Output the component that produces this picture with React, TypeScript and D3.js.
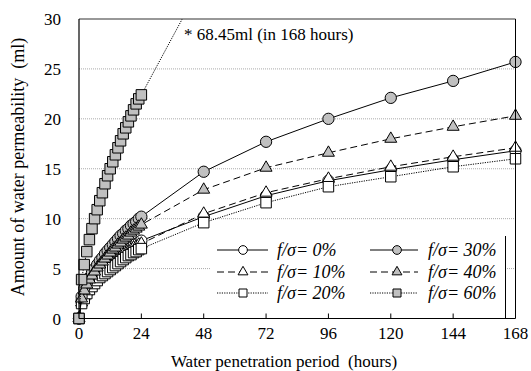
import React, { useEffect, useRef } from "react";
import * as d3 from "d3";

const hoursEarly = d3.range(0, 25);
const hoursLate = [48, 72, 96, 120, 144, 168];

const s0Early = [0, 1.7, 2.3, 2.8, 3.2, 3.6, 3.9, 4.2, 4.5, 4.8, 5.0, 5.3, 5.5, 5.7, 5.9, 6.1, 6.4, 6.6, 6.8, 6.9, 7.1, 7.3, 7.5, 7.6, 7.8];
const s0Late = [10.2, 12.3, 13.8, 14.9, 15.9, 16.8];
const s10Early = [0, 1.6, 2.2, 2.7, 3.1, 3.5, 3.8, 4.1, 4.4, 4.6, 4.9, 5.1, 5.3, 5.5, 5.8, 6.0, 6.2, 6.4, 6.5, 6.7, 6.9, 7.1, 7.2, 7.4, 7.5];
const s10Late = [10.5, 12.6, 14.0, 15.2, 16.2, 17.1];
const s20Early = [0, 1.5, 2.0, 2.5, 2.9, 3.2, 3.5, 3.8, 4.1, 4.3, 4.5, 4.7, 4.9, 5.1, 5.3, 5.5, 5.7, 5.9, 6.1, 6.3, 6.4, 6.6, 6.7, 6.9, 7.0];
const s20Late = [9.6, 11.6, 13.2, 14.2, 15.2, 16.0];
const s30Early = [0, 2.2, 3.0, 3.6, 4.1, 4.6, 5.0, 5.4, 5.8, 6.1, 6.5, 6.8, 7.1, 7.4, 7.7, 8.0, 8.3, 8.5, 8.8, 9.0, 9.3, 9.5, 9.7, 10.0, 10.2];
const s30Late = [14.7, 17.7, 20.0, 22.1, 23.8, 25.7];
const s40Early = [0, 2.0, 2.8, 3.4, 3.9, 4.3, 4.7, 5.1, 5.4, 5.7, 6.0, 6.3, 6.6, 6.9, 7.1, 7.4, 7.6, 7.9, 8.1, 8.3, 8.6, 8.8, 9.0, 9.2, 9.4];
const s40Late = [12.9, 15.1, 16.6, 18.0, 19.2, 20.3];
const s60Early = [0, 3.9, 5.4, 6.7, 7.9, 9.0, 10.0, 10.9, 11.8, 12.6, 13.5, 14.3, 15.0, 15.7, 16.4, 17.1, 17.8, 18.5, 19.1, 19.7, 20.3, 20.9, 21.5, 22.0, 22.4];
const s60Late = [34.0, 43.0, 50.0, 57.0, 63.0, 68.45];

const seriesLabels = ["f/σ= 0%", "f/σ= 10%", "f/σ= 20%", "f/σ= 30%", "f/σ= 40%", "f/σ= 60%"];
const xTicks = [0, 24, 48, 72, 96, 120, 144, 168];
const yTicks = [0, 5, 10, 15, 20, 25, 30];
const annotation = "* 68.45ml (in 168 hours)";

type Series = { label: string; values: number[]; dash: string; marker: string; fill: string };

const series: Series[] = [
  { label: seriesLabels[0], values: [...s0Early, ...s0Late], dash: "none", marker: "circle", fill: "#fff" },
  { label: seriesLabels[1], values: [...s10Early, ...s10Late], dash: "7,4", marker: "triangle", fill: "#fff" },
  { label: seriesLabels[2], values: [...s20Early, ...s20Late], dash: "1.2,1.2", marker: "square", fill: "#fff" },
  { label: seriesLabels[3], values: [...s30Early, ...s30Late], dash: "none", marker: "circle", fill: "#c0c0c0" },
  { label: seriesLabels[4], values: [...s40Early, ...s40Late], dash: "7,4", marker: "triangle", fill: "#c0c0c0" },
  { label: seriesLabels[5], values: [...s60Early, ...s60Late], dash: "1.2,1.2", marker: "square", fill: "#c0c0c0" },
];
const hours = [...hoursEarly, ...hoursLate];

export default function App() {
  const ref = useRef<SVGSVGElement>(null);
  useEffect(() => {
    document.body.style.margin = "0";
    const svg = d3.select(ref.current);
    svg.selectAll("*").remove();
    const W = 531, H = 371;
    const L = 79, R = 515.5, T = 19, B = 318.5;
    const x = d3.scaleLinear().domain([0, 168]).range([L, R]);
    const y = d3.scaleLinear().domain([0, 30]).range([B, T]);
    const font = '"Liberation Serif", "Times New Roman", Times, "DejaVu Serif", serif';

    svg.append("rect").attr("width", W).attr("height", H).attr("fill", "#fff");
    svg.append("defs").append("clipPath").attr("id", "plotclip")
      .append("rect").attr("x", L).attr("y", T).attr("width", R - L).attr("height", B - T);

    svg.append("g").selectAll("line").data(yTicks.filter(v => v > 0 && v < 30)).join("line")
      .attr("x1", L).attr("x2", R).attr("y1", d => y(d)).attr("y2", d => y(d))
      .attr("stroke", "#aaa").attr("stroke-width", 1).attr("stroke-dasharray", "1,1");

    const symbolFor = (m: string) => {
      if (m === "circle") return d3.symbol().type(d3.symbolCircle).size(100)();
      if (m === "triangle") return d3.symbol().type(d3.symbolTriangle).size(62)();
      return d3.symbol().type(d3.symbolSquare).size(110)();
    };

    const line = d3.line<[number, number]>().x(d => x(d[0])).y(d => y(d[1]));
    const drawMarker = (g: any, m: string, fill: string, cx: number, cy: number) => {
      g.append("path").attr("d", symbolFor(m)).attr("transform", `translate(${cx},${cy})`)
        .attr("fill", fill).attr("stroke", "#000").attr("stroke-width", 1);
    };

    series.forEach(s => {
      const pts: [number, number][] = hours.map((h, i) => [h, s.values[i]]);
      svg.append("path").attr("d", line(pts)).attr("fill", "none").attr("stroke", "#000")
        .attr("stroke-width", 1).attr("stroke-dasharray", s.dash).attr("clip-path", "url(#plotclip)");
      const g = svg.append("g");
      pts.filter(p => p[1] <= 30).forEach(p => drawMarker(g, s.marker, s.fill, x(p[0]), y(p[1])));
    });

    const lg = svg.append("g");
    lg.append("rect").attr("x", 210).attr("y", 236).attr("width", 505.5 - 210).attr("height", B - 236)
      .attr("fill", "#fff");
    lg.append("line").attr("x1", 505.5).attr("x2", 505.5).attr("y1", 236).attr("y2", B)
      .attr("stroke", "#000").attr("stroke-width", 1);
    const cols = [{ x1: 217, x2: 268, mx: 243, tx: 277 }, { x1: 370, x2: 418, mx: 397, tx: 428 }];
    const rowsY = [250, 272, 293];
    [[0, 3], [1, 4], [2, 5]].forEach((pair, r) => {
      pair.forEach((si, c) => {
        const s = series[si];
        const col = cols[c];
        const yy = rowsY[r];
        lg.append("line").attr("x1", col.x1).attr("x2", col.x2).attr("y1", yy).attr("y2", yy)
          .attr("stroke", "#000").attr("stroke-width", 1).attr("stroke-dasharray", s.dash);
        lg.append("path").attr("d", (s.marker === "circle" ? d3.symbol().type(d3.symbolCircle).size(60)() :
          s.marker === "triangle" ? d3.symbol().type(d3.symbolTriangle).size(42)() : d3.symbol().type(d3.symbolSquare).size(64)()))
          .attr("transform", `translate(${col.mx},${yy})`).attr("fill", s.fill).attr("stroke", "#000").attr("stroke-width", 1);
        lg.append("text").attr("x", col.tx).attr("y", yy + 6).style("font-family", font)
          .style("font-style", "italic").style("font-size", "18px").text(s.label);
      });
    });

    svg.append("line").attr("x1", L).attr("x2", R).attr("y1", T).attr("y2", T).attr("stroke", "#333").attr("stroke-width", 1.2);
    svg.append("line").attr("x1", R).attr("x2", R).attr("y1", T).attr("y2", B).attr("stroke", "#000").attr("stroke-width", 1);
    svg.append("line").attr("x1", L).attr("x2", L).attr("y1", T).attr("y2", B).attr("stroke", "#000").attr("stroke-width", 1.2);
    svg.append("line").attr("x1", L).attr("x2", R).attr("y1", B).attr("y2", B).attr("stroke", "#000").attr("stroke-width", 1.2);

    svg.append("g").selectAll("line").data(xTicks.slice(1, -1)).join("line")
      .attr("x1", d => x(d)).attr("x2", d => x(d)).attr("y1", B).attr("y2", B - 5)
      .attr("stroke", "#000").attr("stroke-width", 1);
    svg.append("g").selectAll("text").data(xTicks).join("text")
      .attr("x", d => x(d)).attr("y", 339).attr("text-anchor", "middle")
      .style("font-family", font).style("font-size", "17px").text(d => String(d));
    svg.append("g").selectAll("text").data(yTicks).join("text")
      .attr("x", 61).attr("y", d => y(d) + 6).attr("text-anchor", "end")
      .style("font-family", font).style("font-size", "17px").text(d => String(d));

    svg.append("text").attr("x", 284).attr("y", 367).attr("text-anchor", "middle")
      .style("font-family", font).style("font-size", "17px")
      .style("white-space", "pre").text("Water penetration period  (hours)");
    svg.append("text").attr("transform", `translate(24,167) rotate(-90)`).attr("text-anchor", "middle")
      .style("font-family", font).style("font-size", "18px").style("white-space", "pre")
      .text("Amount of water permeability  (ml)");
    svg.append("text").attr("x", 184).attr("y", 40).style("font-family", font).style("font-size", "17px")
      .text(annotation);
  }, []);
  return <svg ref={ref} width={531} height={371} style={{ display: "block" }} />;
}
